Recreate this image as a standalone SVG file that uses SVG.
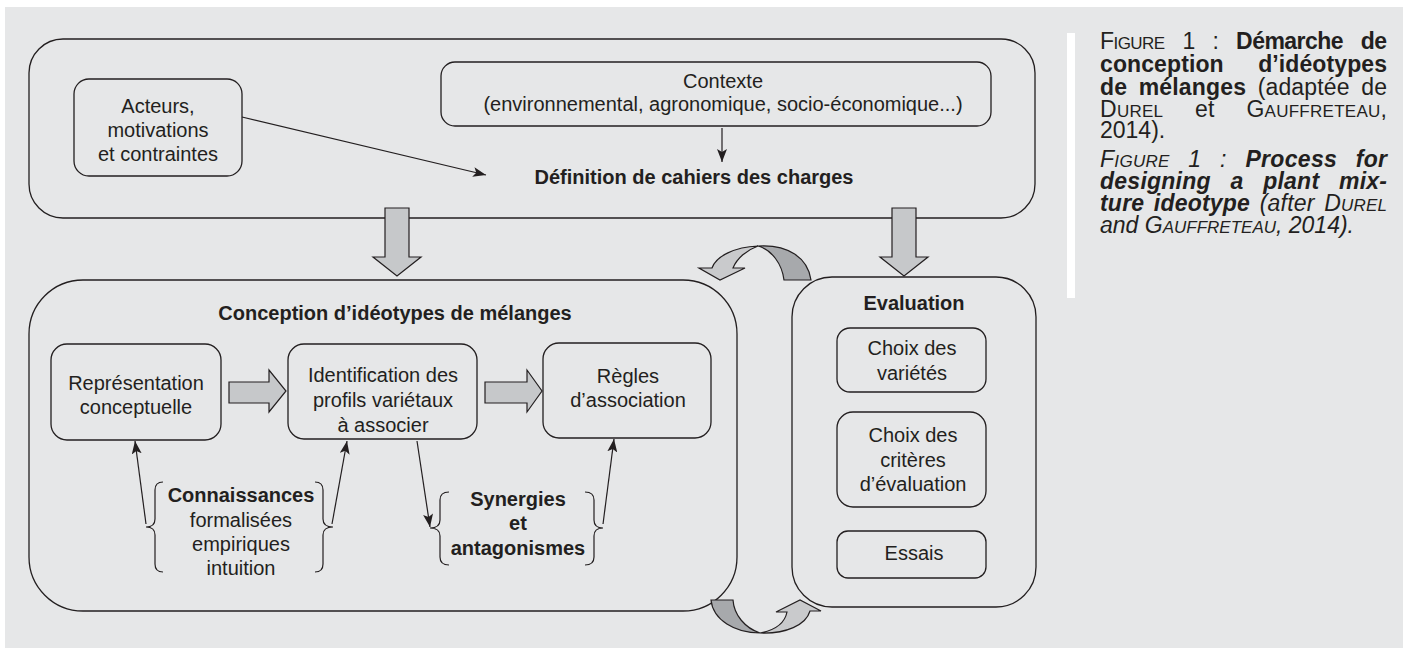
<svg xmlns="http://www.w3.org/2000/svg" width="1403" height="653" viewBox="0 0 1403 653">
<defs>
<style>
.bx{fill:none;stroke:#231f20;stroke-width:1.3}
.t{font-family:"Liberation Sans",Arial,sans-serif;font-size:20px;fill:#231f20;text-anchor:middle}
.b{font-weight:bold}
.ln{stroke:#231f20;stroke-width:1.2;fill:none}
.ga{fill:#c6c8ca;stroke:#231f20;stroke-width:1.2;stroke-linejoin:miter}
.dk{fill:#a7a9ac;stroke:#231f20;stroke-width:1.2}
.lt{fill:#c9cacc;stroke:#231f20;stroke-width:1.2}
.cap{font-family:"Liberation Sans",Arial,sans-serif;font-size:23px;fill:#231f20}
.sc{font-size:17px}
</style>
<marker id="ah" viewBox="0 0 13 10" refX="13" refY="5" markerWidth="13" markerHeight="10" markerUnits="userSpaceOnUse" orient="auto">
<path d="M0,0 L13,5 L0,10 L3,5 Z" fill="#231f20"/>
</marker>
</defs>
<rect x="5" y="7" width="1398" height="641" fill="#e6e7e8"/>
<rect x="1067" y="33" width="8" height="265" fill="#ffffff"/>

<g id="definition">
<rect class="bx" x="29" y="39" width="1006" height="179" rx="34" ry="34"/>
<text class="t b" x="694" y="184">Définition de cahiers des charges</text>
</g>
<g id="acteurs">
<rect class="bx" x="74" y="79" width="168" height="97" rx="15" ry="15"/>
<text class="t" x="158" y="113">Acteurs,</text>
<text class="t" x="158" y="137">motivations</text>
<text class="t" x="158" y="161">et contraintes</text>
</g>
<g id="contexte">
<rect class="bx" x="441" y="62" width="550" height="64" rx="14" ry="14"/>
<text class="t" x="723" y="88">Contexte</text>
<text class="t" x="723" y="111">(environnemental, agronomique, socio-économique...)</text>
</g>

<g id="conception">
<rect class="bx" x="29" y="280" width="708" height="331" rx="54" ry="54"/>
<text class="t b" x="395" y="320">Conception d’idéotypes de mélanges</text>
</g>
<g id="representation">
<rect class="bx" x="51" y="344" width="170" height="96" rx="16" ry="16"/>
<text class="t" x="136" y="390">Représentation</text>
<text class="t" x="136" y="414">conceptuelle</text>
</g>
<g id="identification">
<rect class="bx" x="288" y="344" width="189" height="95" rx="16" ry="16"/>
<text class="t" x="383" y="382">Identification des</text>
<text class="t" x="383" y="407">profils variétaux</text>
<text class="t" x="383" y="432">à associer</text>
</g>
<g id="regles">
<rect class="bx" x="543" y="343" width="168" height="95" rx="16" ry="16"/>
<text class="t" x="628" y="383">Règles</text>
<text class="t" x="628" y="407">d’association</text>
</g>
<g id="connaissances">
<path class="ln" d="M163,482 Q155,482 155,490 L155,519 Q155,527 146,527 Q155,527 155,535 L155,564 Q155,572 163,572"/>
<path class="ln" d="M315,482 Q323,482 323,490 L323,519 Q323,527 333,527 Q323,527 323,535 L323,564 Q323,572 315,572"/>
<text class="t b" x="241" y="502">Connaissances</text>
<text class="t" x="241" y="527">formalisées</text>
<text class="t" x="241" y="551">empiriques</text>
<text class="t" x="241" y="575">intuition</text>
</g>
<g id="synergies">
<path class="ln" d="M449,492 Q440,492 440,500 L440,520 Q440,528 430,528 Q440,528 440,536 L440,557 Q440,565 449,565"/>
<path class="ln" d="M585,492 Q594,492 594,500 L594,520 Q594,528 603,528 Q594,528 594,536 L594,557 Q594,565 585,565"/>
<text class="t b" x="518" y="506">Synergies</text>
<text class="t b" x="518" y="530">et</text>
<text class="t b" x="518" y="555">antagonismes</text>
</g>

<g id="evaluation">
<rect class="bx" x="792" y="277" width="244" height="330" rx="40" ry="40"/>
<text class="t b" x="914" y="310">Evaluation</text>
</g>
<g id="choix-varietes">
<rect class="bx" x="837" y="328" width="149" height="64" rx="13" ry="13"/>
<text class="t" x="912" y="355">Choix des</text>
<text class="t" x="912" y="380">variétés</text>
</g>
<g id="choix-criteres">
<rect class="bx" x="837" y="412" width="149" height="95" rx="16" ry="16"/>
<text class="t" x="913" y="442">Choix des</text>
<text class="t" x="913" y="467">critères</text>
<text class="t" x="913" y="491">d’évaluation</text>
</g>
<g id="essais">
<rect class="bx" x="837" y="531" width="149" height="47" rx="11" ry="11"/>
<text class="t" x="914" y="560">Essais</text>
</g>

<g id="connectors">
<line class="ln" x1="242" y1="117" x2="486" y2="175" marker-end="url(#ah)"/>
<line class="ln" x1="722" y1="128" x2="722" y2="162" marker-end="url(#ah)"/>
<line class="ln" x1="146" y1="524" x2="135" y2="441" marker-end="url(#ah)"/>
<line class="ln" x1="332" y1="524" x2="347" y2="441" marker-end="url(#ah)"/>
<line class="ln" x1="417" y1="441" x2="430" y2="527" marker-end="url(#ah)"/>
<line class="ln" x1="603" y1="524" x2="614" y2="439" marker-end="url(#ah)"/>
<path class="ga" d="M385,208 L409,208 L409,257 L421,257 L397,276 L373,257 L385,257 Z"/>
<path class="ga" d="M892,208 L916,208 L916,257 L928,257 L904,276 L880,257 L892,257 Z"/>
<path class="ga" d="M229,382 L269,382 L269,370 L286,391 L269,412 L269,403 L229,403 Z"/>
<path class="ga" d="M485,382 L527,382 L527,370 L542,391 L527,412 L527,403 L485,403 Z"/>
<path class="dk" d="M758,246 C788,244 808,258 811,280 L784,280 C782,264 772,250 758,246 Z"/>
<path class="lt" d="M758,246 C735,247 716,256 712,268 L699,268 L720,280 L745,268 L733,268 C737,258 747,250 758,246 Z"/>
<path class="dk" d="M711,600 L733,600 C734,615 745,628 760,633 C735,633 713,620 711,600 Z"/>
<path class="lt" d="M760,633 C776,630 785,622 787,612 L776,612 L800,600 L821,611 L810,611 C806,625 786,634 760,633 Z"/>
</g>

<g id="caption">
<text class="cap" x="1100" y="49" word-spacing="12" textLength="287" lengthAdjust="spacing">F<tspan class="sc">IGURE</tspan> 1 : <tspan font-weight="bold">Démarche de</tspan></text>
<text class="cap" x="1100" y="72" word-spacing="28" textLength="287" lengthAdjust="spacing" font-weight="bold">conception d’idéotypes</text>
<text class="cap" x="1100" y="95" word-spacing="5" textLength="287" lengthAdjust="spacing"><tspan font-weight="bold">de mélanges</tspan> (adaptée de</text>
<text class="cap" x="1100" y="117" word-spacing="25" textLength="287" lengthAdjust="spacing">D<tspan class="sc">UREL</tspan> et G<tspan class="sc">AUFFRETEAU</tspan>,</text>
<text class="cap" x="1100" y="138">2014).</text>
<text class="cap" x="1100" y="167" word-spacing="12" textLength="287" lengthAdjust="spacing" font-style="italic">F<tspan class="sc">IGURE</tspan> 1 : <tspan font-weight="bold">Process for</tspan></text>
<text class="cap" x="1100" y="189" word-spacing="13" textLength="287" lengthAdjust="spacing" font-style="italic" font-weight="bold">designing a plant mix-</text>
<text class="cap" x="1100" y="211" word-spacing="3" textLength="287" lengthAdjust="spacing" font-style="italic"><tspan font-weight="bold">ture ideotype</tspan> (after D<tspan class="sc">UREL</tspan></text>
<text class="cap" x="1100" y="233" font-style="italic">and G<tspan class="sc">AUFFRETEAU</tspan>, 2014).</text>
</g>
</svg>
